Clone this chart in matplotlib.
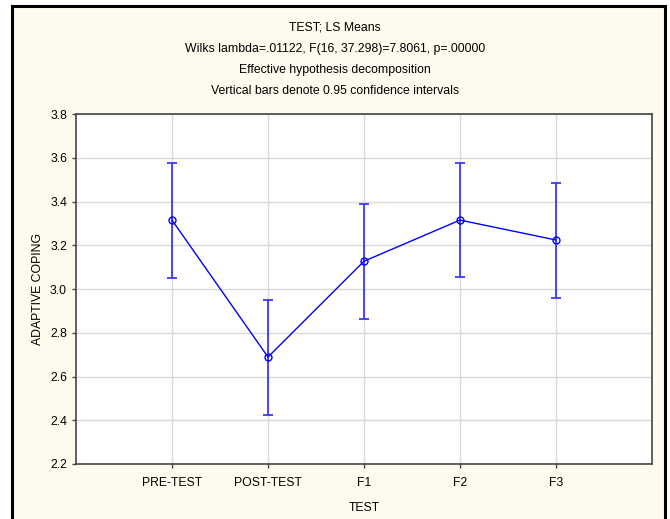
import numpy as np
import matplotlib.pyplot as plt
from matplotlib.patches import Rectangle
from matplotlib import font_manager

# LS means with 0.95 confidence limits
tests = ["PRE-TEST", "POST-TEST", "F1", "F2", "F3"]
means = [3.315, 2.689, 3.127, 3.315, 3.224]
lower = [3.052, 2.423, 2.863, 3.055, 2.957]
upper = [3.577, 2.948, 3.389, 3.575, 3.483]

title_lines = [
    "TEST; LS Means",
    "Wilks lambda=.01122, F(16, 37.298)=7.8061, p=.00000",
    "Effective hypothesis decomposition",
    "Vertical bars denote 0.95 confidence intervals",
]

names = {f.name for f in font_manager.fontManager.ttflist}
if "Liberation Sans Narrow" in names:
    plt.rcParams['font.family'] = ['Liberation Sans Narrow', 'DejaVu Sans']
    fs = 10
else:
    plt.rcParams['font.family'] = ['Liberation Sans', 'DejaVu Sans']
    fs = 8.8

W, H = 670, 519
fig = plt.figure(figsize=(W / 100, H / 100), dpi=100)
fig.patch.set_facecolor("white")

# cream panel with black border (bottom runs off the image)
panel = Rectangle((12 / W, -0.05), (665 - 12) / W, 1.05 - 6 / H,
                  transform=fig.transFigure, facecolor="#fffaee",
                  edgecolor="black", linewidth=2.2, zorder=-1)
fig.patches.append(panel)

ax = fig.add_axes([76 / W, (H - 464) / H, (652 - 76) / W, 350 / H])
ax.set_zorder(1)
ax.set_facecolor("white")

x = np.arange(1, len(tests) + 1)
m = np.array(means)
yerr = [m - np.array(lower), np.array(upper) - m]

ax.errorbar(x, m, yerr=yerr, fmt="none", ecolor="#3a3aff", elinewidth=1.3,
            capsize=3.7, capthick=1.3, zorder=3)
ax.plot(x, m, color="#0000ff", linewidth=1.0, marker="o", markersize=5,
        markerfacecolor="none", markeredgecolor="#0000ff", markeredgewidth=1.0,
        zorder=4)

ax.set_xlim(0, len(tests) + 1)
ax.set_ylim(2.2, 3.8)
ax.set_xticks(x)
ax.set_xticklabels(tests)
yt = np.arange(2.2, 3.81, 0.2)
ax.set_yticks(yt)
ax.set_yticklabels([f"{v:.1f}" for v in yt])
ax.grid(True, color="#d9d9d9", linewidth=1.0)
ax.set_axisbelow(True)
ax.tick_params(direction="out", length=3, width=1, colors="#444444",
               labelcolor="black", labelsize=fs)
ax.tick_params(axis="x", pad=6)
for s in ax.spines.values():
    s.set_color("#444444")
    s.set_linewidth(1.2)

ax.set_xlabel("TEST", fontsize=fs, labelpad=10)
ax.set_ylabel("ADAPTIVE COPING", fontsize=fs, labelpad=4.5)

for i, line in enumerate(title_lines):
    fig.text(0.5, 1 - (28 + 21 * i) / H, line, ha="center", va="center",
             fontsize=fs)

fig.savefig("out.png", dpi=100, facecolor=fig.get_facecolor())
